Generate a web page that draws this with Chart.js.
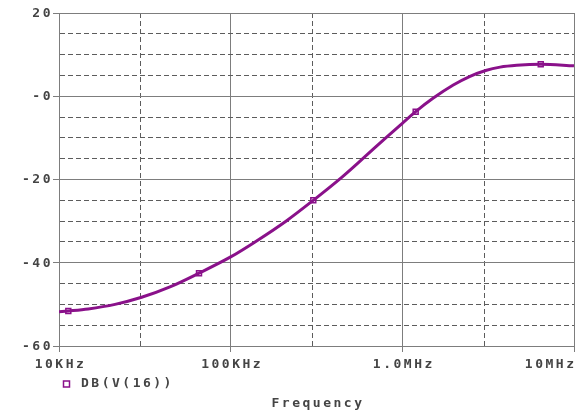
<!DOCTYPE html>
<html lang="en">
<head>
    <meta charset="utf-8" />
    <title>DB(V(16))</title>
    <script src="https://cdn.jsdelivr.net/npm/chart.js@4"></script>
    <style>
        html, body { margin: 0; padding: 0; background: #fff; }
        #wrap { width: 584px; height: 417px; }
    </style>
</head>
<body>
    <div id="wrap"><canvas id="myChart"></canvas></div>

    <script>
// trace values
var freqHz = [10000, 11330, 14800, 21200, 30300, 44300, 65400, 100000, 138700, 211900,
              302900, 440000, 588000, 801000, 1000000, 1196000, 1508000, 1980000,
              2480000, 3060000, 3710000, 4640000, 6400000, 10000000];
var gainDb = [-51.8, -51.6, -51.1, -50.0, -48.3, -45.8, -42.5, -38.6, -35.0, -29.9,
              -25.0, -19.6, -15.0, -10.0, -6.5, -3.7, -0.5, 2.7,
              4.8, 6.2, 7.0, 7.45, 7.7, 7.3];

// the little square markers PSpice puts on the trace
var markerFreq = [11330, 65400, 302900, 1196000, 6400000];
var markerDb = [-51.6, -42.5, -25.0, -3.7, 7.7];

// axes
var xGridHz = [10000, 30000, 100000, 300000, 1000000, 3000000, 10000000];
var xTickHz = [10000, 100000, 1000000, 10000000];
var xTickLabels = ["10KHz", "100KHz", "1.0MHz", "10MHz"];
var yTicks = [20, 0, -20, -40, -60];
var yTickLabels = ["20", "-0", "-20", "-40", "-60"];

var traceName = "DB(V(16))";
var xTitle = "Frequency";

var purple = "#8a118a";
var textColor = "#444444";
var font = 'bold 13px "DejaVu Sans Mono"';

function isDecade(v) {
    return xTickHz.indexOf(v) >= 0;
}

// tick labels, legend and axis title drawn in the same bitmap-ish style
var textPlugin = {
    id: "pspiceText",
    afterDraw: function (chart) {
        var ctx = chart.ctx;
        var area = chart.chartArea;
        var xs = chart.scales.x, ys = chart.scales.y;
        ctx.save();
        ctx.font = font;
        ctx.letterSpacing = "2.5px";
        ctx.fillStyle = textColor;
        ctx.textBaseline = "middle";

        ctx.textAlign = "right";
        yTicks.forEach(function (v, i) {
            ctx.fillText(yTickLabels[i], area.left - 6, ys.getPixelForValue(v) + 0.5);
        });

        ctx.textAlign = "left";
        xTickHz.forEach(function (v, i) {
            var w = ctx.measureText(xTickLabels[i]).width;
            var left = Math.min(xs.getPixelForValue(v) - w / 2 + 1.5, area.right - w + 2.5);
            ctx.fillText(xTickLabels[i], left, area.bottom + 19);
        });

        // legend
        ctx.fillText(traceName, 81, area.bottom + 38);
        ctx.strokeStyle = purple;
        ctx.lineWidth = 1.5;
        ctx.strokeRect(63.5, area.bottom + 35, 6, 6);

        // x title
        ctx.textAlign = "center";
        ctx.fillText(xTitle, (area.left + area.right) / 2 + 1.5, area.bottom + 58);
        ctx.restore();
    }
};

var ctx = document.getElementById("myChart").getContext("2d");
var myChart = new Chart(ctx, {
    type: "line",
    data: {
        datasets: [{
            data: freqHz.map(function (f, i) { return { x: f, y: gainDb[i] }; }),
            borderColor: purple,
            borderWidth: 3,
            pointRadius: 0,
            cubicInterpolationMode: "monotone",
            fill: false
        }, {
            data: markerFreq.map(function (f, i) { return { x: f, y: markerDb[i] }; }),
            showLine: false,
            pointStyle: "rect",
            pointRadius: 3.5,
            pointBorderWidth: 1.5,
            pointBorderColor: purple,
            pointBackgroundColor: "#f4eaf4"
        }]
    },
    options: {
        responsive: true,
        maintainAspectRatio: false,
        animation: false,
        events: [],
        layout: { padding: { left: 0, top: 13, right: 10, bottom: 0 } },
        plugins: {
            legend: { display: false },
            tooltip: { enabled: false }
        },
        scales: {
            x: {
                type: "logarithmic",
                min: 10000,
                max: 10000000,
                afterBuildTicks: function (scale) {
                    scale.ticks = xGridHz.map(function (v) { return { value: v }; });
                },
                afterFit: function (scale) { scale.height = 71; },
                ticks: { display: false },
                grid: {
                    color: function (c) {
                        return c.tick && isDecade(c.tick.value) ? "#7d7d7d" : "#5c5c5c";
                    },
                    lineWidth: 1,
                    tickLength: 6,
                    tickColor: function (c) {
                        return c.tick && isDecade(c.tick.value) ? "#7d7d7d" : "rgba(0,0,0,0)";
                    }
                },
                border: {
                    color: "#7d7d7d",
                    width: 1,
                    dash: function (c) {
                        return c.tick && !isDecade(c.tick.value) ? [5, 3] : [];
                    }
                }
            },
            y: {
                type: "linear",
                min: -60,
                max: 20,
                afterBuildTicks: function (scale) {
                    var t = [];
                    for (var v = -60; v <= 20; v += 5) t.push({ value: v });
                    scale.ticks = t;
                },
                afterFit: function (scale) { scale.width = 59; },
                ticks: { display: false },
                grid: {
                    color: function (c) {
                        return c.tick && c.tick.value % 20 === 0 ? "#7d7d7d" : "#5c5c5c";
                    },
                    lineWidth: 1,
                    tickLength: 6,
                    tickColor: function (c) {
                        return c.tick && c.tick.value % 20 === 0 ? "#7d7d7d" : "rgba(0,0,0,0)";
                    }
                },
                border: {
                    color: "#7d7d7d",
                    width: 1,
                    dash: function (c) {
                        return c.tick && c.tick.value % 20 !== 0 ? [5, 3] : [];
                    }
                }
            }
        }
    },
    plugins: [textPlugin]
});
    </script>
</body>
</html>
